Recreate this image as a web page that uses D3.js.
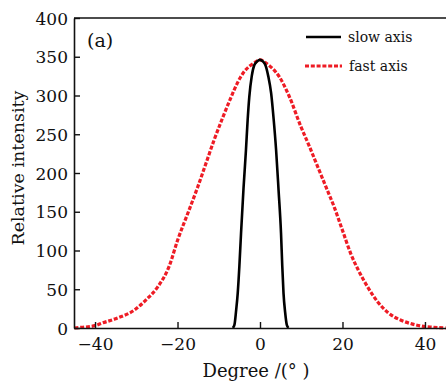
<!DOCTYPE html>
<html>
<head>
<meta charset="utf-8">
<script src="https://cdn.jsdelivr.net/npm/d3@7"></script>
<style>
  body { margin: 0; background: #fff; }
  svg text { font-family: "DejaVu Serif", serif; fill: #111; }
</style>
</head>
<body>
<svg id="chart" width="446" height="381"></svg>
<script>
// fast axis profile (red dashed)
const fastDeg = [-45, -44, -40, -38.5, -35, -30.5, -27.5, -24.8, -22, -20, -17.5, -15.1, -13, -11.1, -9, -7, -5.5, -3.8, -2.5, -1.4, 0,
  1.4, 3, 4.7, 7, 9.9, 12, 14, 16, 18, 20, 22, 24, 26.1, 28.5, 31, 34.2, 37, 39, 42, 45];
const fastVal = [0, 0.5, 3, 6, 12, 23, 37, 53, 80, 113, 148, 182, 214, 243, 272, 298, 316, 331, 338, 342, 346,
  342, 335, 324, 300, 260, 234, 208, 182, 156, 126, 96, 73, 53, 34, 20, 10, 5, 2.6, 1, 0];

// slow axis profile (black solid)
const slowDeg = [-6.6, -6.2, -5.8, -5.4, -5, -4.6, -4, -3.4, -3, -2.6, -2, -1.4, -0.7, 0, 0.7, 1.4, 2, 2.7, 3.3, 3.9, 4.5, 5.1, 5.4, 5.7, 6.1, 6.5, 6.9];
const slowVal = [0, 4, 22, 45, 80, 122, 180, 230, 268, 298, 325, 339, 344, 346, 344, 338, 325, 303, 270, 230, 178, 122, 80, 45, 20, 4, 0];

const xTicks = [-40, -20, 0, 20, 40];
const yTicks = [0, 50, 100, 150, 200, 250, 300, 350, 400];

const svg = d3.select('#chart');
const m = { left: 74, top: 18, right: 446, bottom: 328 };

const x = d3.scaleLinear().domain([-45.1, 45.1]).range([m.left, m.right]);
const y = d3.scaleLinear().domain([0, 400]).range([m.bottom, m.top]);

const line = d3.line().x(d => x(d[0])).y(d => y(d[1])).curve(d3.curveMonotoneX);

const plot = svg.append('g');

plot.append('path')
  .datum(fastDeg.map((d, i) => [d, fastVal[i]]))
  .attr('d', line)
  .attr('fill', 'none')
  .attr('stroke', '#ee1c25')
  .attr('stroke-width', 3.2)
  .attr('stroke-dasharray', '4,1.8');

plot.append('path')
  .datum(slowDeg.map((d, i) => [d, slowVal[i]]))
  .attr('d', line)
  .attr('fill', 'none')
  .attr('stroke', '#000')
  .attr('stroke-width', 2.6);

// axes, ticks point inward
const xAxis = svg.append('g')
  .attr('transform', `translate(0,${m.bottom})`)
  .call(d3.axisBottom(x).tickValues(xTicks).tickSizeInner(-6).tickSizeOuter(0)
    .tickFormat(d => d < 0 ? '\u2212' + Math.abs(d) : d));
xAxis.select('.domain').attr('stroke', '#111').attr('stroke-width', 1.6);
xAxis.selectAll('.tick line').attr('stroke', '#111').attr('stroke-width', 1.4);
xAxis.selectAll('.tick text').attr('dy', 0).attr('y', 22).attr('font-size', 17).attr('fill', '#111');

const yAxis = svg.append('g')
  .attr('transform', `translate(${m.left},0)`)
  .call(d3.axisLeft(y).tickValues(yTicks).tickSizeInner(-6).tickSizeOuter(0));
yAxis.select('.domain').attr('stroke', '#111').attr('stroke-width', 1.6);
yAxis.selectAll('.tick line').attr('stroke', '#111').attr('stroke-width', 1.4);
yAxis.selectAll('.tick text').attr('x', -6).attr('dy', '0.36em').attr('font-size', 17).attr('fill', '#111');

// top frame line
svg.append('line')
  .attr('x1', m.left).attr('x2', m.right).attr('y1', m.top).attr('y2', m.top)
  .attr('stroke', '#111').attr('stroke-width', 1.6);

// labels
svg.append('text').attr('x', 87).attr('y', 47).attr('font-size', 19).text('(a)');

svg.append('text')
  .attr('transform', 'translate(24,168) rotate(-90)')
  .attr('text-anchor', 'middle').attr('font-size', 17.5)
  .text('Relative intensity');

svg.append('text')
  .attr('x', 256).attr('y', 377).attr('text-anchor', 'middle').attr('font-size', 18)
  .text('Degree /(\u00b0  )');

// legend
const legend = svg.append('g');
legend.append('line').attr('x1', 306).attr('x2', 341).attr('y1', 37).attr('y2', 37)
  .attr('stroke', '#000').attr('stroke-width', 2.6);
legend.append('text').attr('x', 348).attr('y', 42).attr('font-size', 14).text('slow axis');
legend.append('line').attr('x1', 305).attr('x2', 342).attr('y1', 66).attr('y2', 66)
  .attr('stroke', '#ee1c25').attr('stroke-width', 3.2).attr('stroke-dasharray', '4,1.8');
legend.append('text').attr('x', 349).attr('y', 71).attr('font-size', 14).text('fast axis');
</script>
</body>
</html>
